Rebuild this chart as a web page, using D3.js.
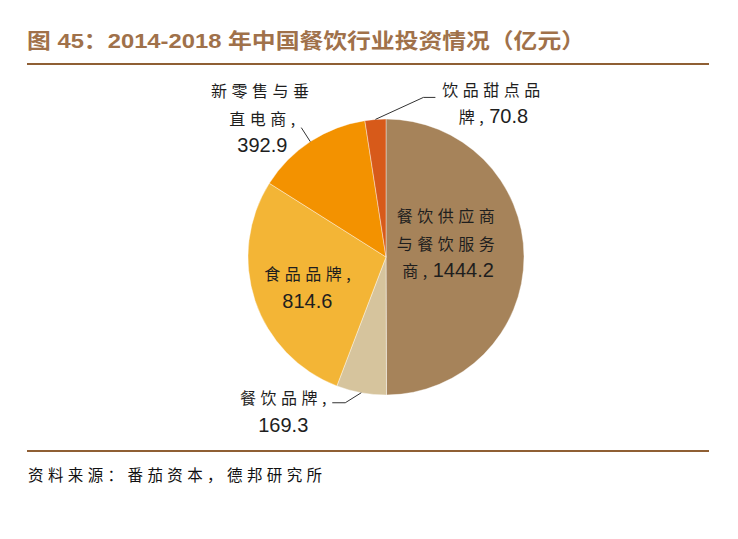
<!DOCTYPE html>
<html><head><meta charset="utf-8">
<script src="https://cdn.jsdelivr.net/npm/d3@7/dist/d3.min.js"></script>
<style>
body{margin:0;background:#fff;}
svg{display:block;}
.cjk{font-family:"Noto Sans CJK SC",sans-serif;font-size:16px;letter-spacing:4.5px;fill:#1e1e1e;}
.cm{font-family:"Noto Sans CJK SC",sans-serif;font-size:16px;letter-spacing:0;fill:#1e1e1e;}
.num{font-family:"Liberation Sans",Arial,sans-serif;font-size:20px;letter-spacing:0;fill:#1e1e1e;}
</style></head>
<body>
<svg id="c" width="738" height="539"></svg>
<script>
// ---- data ----
const categories = ["餐饮供应商与餐饮服务商", "餐饮品牌", "食品品牌", "新零售与垂直电商", "饮品甜点品牌"];
const values = [1444.2, 169.3, 814.6, 392.9, 70.8];
const colors = ["#A6835A", "#D6C49D", "#F3B536", "#F39200", "#D75A1A"];
const titleText = "图 45：2014-2018 年中国餐饮行业投资情况（亿元）";
const sourceText = "资料来源：番茄资本，德邦研究所";

// ---- layout ----
const nameBreaks = [[5, 10], [], [], [5], [5]];
const valueOnNewLine = [false, true, true, true, false];
const labelMode = ["in", "out", "in", "out", "out"];
const inRadius = [62, 0, 85, 0, 0];
const labelShift = [[0, -14], [0, 0], [2, 3], [0, 0], [0, 0]];
const leaderElbow = [null, [-16, 10], null, [-9, -14], [48, -22]];
const leaderEnd = [null, [-29, 10], null, [-9, -14], [60, -22]];
const outLabelPos = [null, [-78, 18], null, [-48, -24], [118, -17]];
const lineGap = 27.5;

const svg = d3.select("#c");
const cx = 386, cy = 257, R = 138;

svg.append("text").attr("x", 27).attr("y", 48)
  .attr("textLength", 558).attr("lengthAdjust", "spacingAndGlyphs")
  .style("font-family", '"Liberation Sans","Noto Sans CJK SC",sans-serif')
  .style("font-weight", "bold").style("font-size", "21px").style("fill", "#A0714A")
  .text(titleText);
svg.append("line").attr("x1", 27).attr("x2", 709).attr("y1", 64).attr("y2", 64)
  .attr("stroke", "#8F5F34").attr("stroke-width", 2);
svg.append("line").attr("x1", 27).attr("x2", 709).attr("y1", 451).attr("y2", 451)
  .attr("stroke", "#8F5F34").attr("stroke-width", 2);
svg.append("text").attr("x", 28).attr("y", 481)
  .style("font-family", '"Noto Sans CJK SC",serif').style("font-size", "15.5px")
  .style("letter-spacing", "4.4px").style("fill", "#111")
  .text(sourceText);

const pie = d3.pie().sort(null).value(d => d);
const arcs = pie(values);
const arc = d3.arc().innerRadius(0).outerRadius(R);
const g = svg.append("g").attr("transform", `translate(${cx},${cy})`);
g.selectAll("path").data(arcs).join("path")
  .attr("d", arc).attr("fill", (d, i) => colors[i])
  .attr("stroke", "#fff").attr("stroke-width", 0.4);

function polar(a, r) { return [r * Math.sin(a), -r * Math.cos(a)]; }

arcs.forEach((d, i) => {
  const mid = (d.startAngle + d.endAngle) / 2;
  const name = categories[i];
  const br = [0, ...nameBreaks[i], name.length];
  const lines = [];
  for (let k = 0; k < br.length - 1; k++) lines.push([{ t: name.slice(br[k], br[k + 1]), c: "cjk" }]);
  const last = lines[lines.length - 1];
  last.push({ t: ",", c: "cm" });
  const valStr = values[i].toFixed(1);
  if (valueOnNewLine[i]) lines.push([{ t: valStr, c: "num" }]);
  else last.push({ t: "\u00a0" + valStr, c: "num" });

  let center;
  if (labelMode[i] === "in") {
    const p = polar(mid, inRadius[i]);
    center = [p[0] + labelShift[i][0], p[1] + labelShift[i][1]];
  } else {
    const e = polar(mid, R);
    const el = [e[0] + leaderElbow[i][0], e[1] + leaderElbow[i][1]];
    const en = [e[0] + leaderEnd[i][0], e[1] + leaderEnd[i][1]];
    g.append("polyline").attr("points", [e, el, en].map(p => p.join(",")).join(" "))
      .attr("fill", "none").attr("stroke", "#333").attr("stroke-width", 1);
    center = [e[0] + outLabelPos[i][0], e[1] + outLabelPos[i][1]];
  }
  const n = lines.length;
  lines.forEach((ln, k) => {
    const t = g.append("text").attr("x", center[0])
      .attr("y", center[1] + (k - (n - 1) / 2) * lineGap)
      .attr("text-anchor", "middle").attr("dominant-baseline", "central");
    ln.forEach(s => t.append("tspan").attr("class", s.c).text(s.t));
  });
});
</script>
</body></html>
